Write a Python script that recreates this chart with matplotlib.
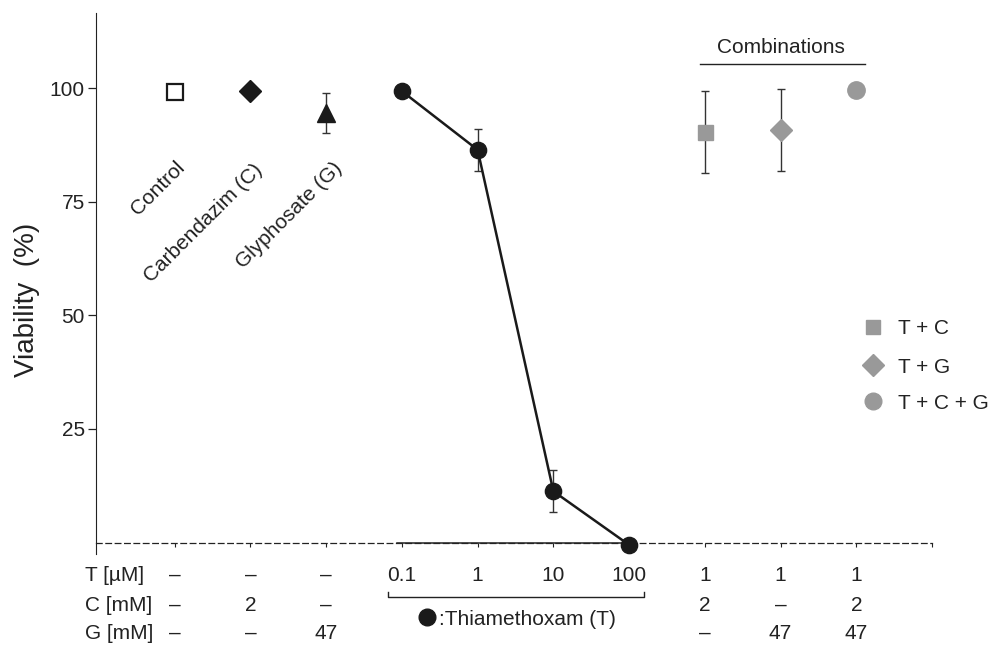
import matplotlib
matplotlib.use('Agg')
import matplotlib.pyplot as plt
from matplotlib import transforms

plt.rcParams['font.family'] = ['Liberation Sans', 'DejaVu Sans']

# data ------------------------------------------------------------
single_names = ['Control', 'Carbendazim (C)', 'Glyphosate (G)']
control_x, control_y = 1, 99.2
carb_x, carb_y = 2, 99.3
gly_x, gly_y, gly_err = 3, 94.4, 4.4

thia_x = [4, 5, 6, 7]
thia_y = [99.3, 86.4, 11.3, -0.5]
thia_err = [0, 4.6, 4.6, 0]

combo_names = ['T + C', 'T + G', 'T + C + G']
combo_x = [8, 9, 10]
combo_y = [90.3, 90.8, 99.6]
combo_err = [9.1, 9.0, 0]

row_names = ['T [µM]', 'C [mM]', 'G [mM]']
t_row = ['–', '–', '–', '0.1', '1', '10', '100', '1', '1', '1']
c_row = ['–', '2', '–', '', '', '', '', '2', '–', '2']
g_row = ['–', '–', '47', '', '', '', '', '–', '47', '47']

y_ticks = [25, 50, 75, 100]

# figure ------------------------------------------------------------
W, H = 996, 649
fig = plt.figure(figsize=(W / 100, H / 100), dpi=100)
ax = fig.add_axes([96 / W, 1 - 554 / H, (932 - 96) / W, (554 - 13) / H])
ax.set_xlim(-0.04, 11)
ax.set_ylim(-2.5, 116.5)

dark = '#222222'
grey = '#999999'
black = '#1a1a1a'

for s in ['top', 'right']:
    ax.spines[s].set_visible(False)
ax.spines['left'].set_color(dark)
ax.spines['bottom'].set_position(('data', 0))
ax.spines['bottom'].set_linestyle((0, (4.5, 3)))
ax.spines['bottom'].set_linewidth(0.9)
ax.spines['bottom'].set_color(dark)
ax.plot([3.93, 7.0], [0, 0], color=dark, lw=1.1, zorder=2, clip_on=False)

ax.set_xticks(range(1, 12))
ax.set_xticklabels([])
ax.tick_params(axis='x', length=3, width=0.8, color=dark)
ax.set_yticks(y_ticks)
ax.tick_params(axis='y', length=6, width=0.9, pad=2, labelsize=15,
               color=dark, labelcolor=dark)

fig.text(27 / W, 1 - 300 / H, 'Viability  (%)', rotation=90, ha='center',
         va='center', fontsize=20, color=dark)

# single treatments
ax.errorbar([gly_x], [gly_y], yerr=[gly_err], fmt='none', ecolor='#333333',
            elinewidth=1, capsize=3, capthick=1, zorder=2)
ax.plot(control_x, control_y, 's', ms=11, mfc='white', mec=black, mew=1.6, zorder=3)
ax.plot(carb_x, carb_y, 'D', ms=10.7, color=black, zorder=3)
ax.plot(gly_x, gly_y, '^', ms=13.5, color=black, zorder=3)

label_pos = [(0.78, 78.0), (1.38, 70.2), (2.51, 72.0)]
for name, (lx, ly) in zip(single_names, label_pos):
    ax.text(lx, ly, name, rotation=45, rotation_mode='anchor', ha='center',
            va='center', fontsize=15, color=dark)

# thiamethoxam series
ax.errorbar(thia_x, thia_y, yerr=thia_err, fmt='none', ecolor='#333333',
            elinewidth=1, capsize=3, capthick=1, zorder=2)
ax.plot(thia_x, thia_y, '-o', color=black, lw=1.8, ms=11.7, zorder=3, clip_on=False)

# combinations
ax.errorbar(combo_x, combo_y, yerr=combo_err, fmt='none', ecolor='#333333',
            elinewidth=1, capsize=3, capthick=1, zorder=2)
combo_markers = ['s', 'D', 'o']
combo_ms = [10.8, 11.5, 12.5]
for x, y, m, s in zip(combo_x, combo_y, combo_markers, combo_ms):
    ax.plot(x, y, m, ms=s, color=grey, zorder=3)

ax.text(9.01, 107.7, 'Combinations', ha='center', va='baseline', fontsize=15, color=dark)
ax.plot([7.93, 10.12], [105.2, 105.2], color=dark, lw=1, clip_on=False)

# legend for combinations
leg_y = [47.5, 39.1, 31.2]
leg_ms = [10.5, 11, 12]
for name, m, s, y in zip(combo_names, combo_markers, leg_ms, leg_y):
    ax.plot(10.22, y, m, ms=s, color=grey, clip_on=False)
    ax.text(10.55, y - 1.7, name, ha='left', va='baseline', fontsize=15, color=dark)

# treatment table under the axis
trans = transforms.blended_transform_factory(ax.transData, fig.transFigure)
row_base = [581, 611, 639]
for name, row, yb in zip(row_names, [t_row, c_row, g_row], row_base):
    fig.text(85 / W, 1 - yb / H, name, ha='left', va='baseline', fontsize=15, color=dark)
    for i, val in enumerate(row):
        if val:
            ax.text(i + 1, 1 - yb / H, val, transform=trans, ha='center',
                    va='baseline', fontsize=15, color=dark)

# bracket for thiamethoxam
ax.plot([3.82, 3.82, 7.2, 7.2], [-10.8, -11.9, -11.9, -10.8], color=dark,
        lw=1, clip_on=False)
ax.plot(4.33, -16.3, 'o', ms=12, color=black, clip_on=False)
ax.text(4.49, 1 - 625 / H, ':Thiamethoxam (T)', transform=trans, ha='left',
        va='baseline', fontsize=15, color=dark)

fig.savefig('out.png', dpi=100)
